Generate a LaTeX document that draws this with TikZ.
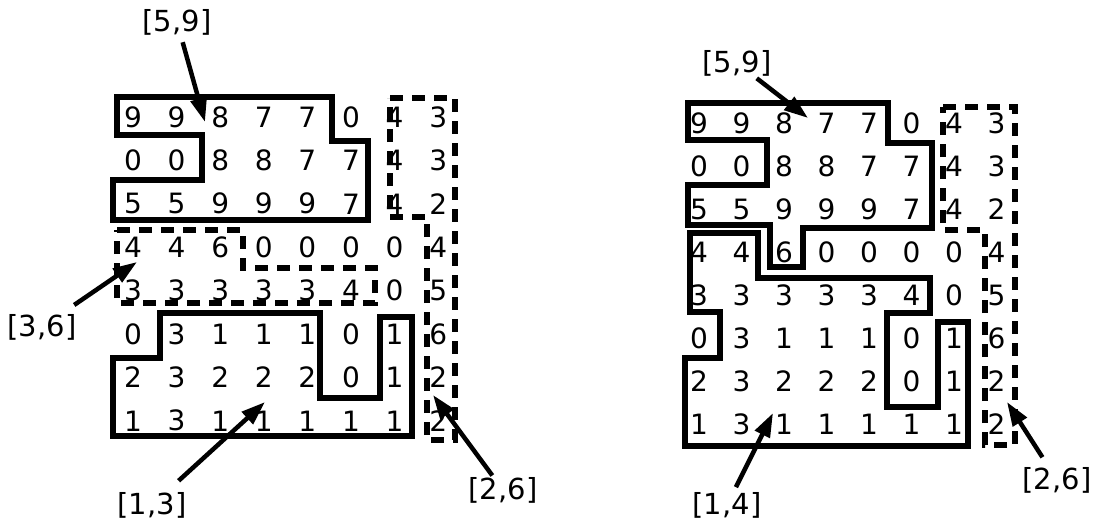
\documentclass[tikz,border=0pt]{standalone}
\usepackage{fontspec}
\setmainfont{DejaVu Sans}
\usetikzlibrary{arrows.meta}
\begin{document}
\begin{tikzpicture}[x=1pt,y=-1pt,
  digit/.style={font=\fontsize{28}{28}\selectfont, inner sep=0pt, anchor=center},
  lab/.style={font=\fontsize{29}{29}\selectfont, inner sep=0pt},
  region/.style={line width=6.5pt, line join=miter},
  dregion/.style={line width=6.5pt, dash pattern=on 13pt off 9pt},
  arr/.style={line width=4.5pt, -{Triangle[length=24pt,width=16pt]}}]
\useasboundingbox (0,0) rectangle (1097,522);

% ---------- digits ----------
\def\gridrows{{9,9,8,7,7,0,4,3},{0,0,8,8,7,7,4,3},{5,5,9,9,9,7,4,2},{4,4,6,0,0,0,0,4},{3,3,3,3,3,4,0,5},{0,3,1,1,1,0,1,6},{2,3,2,2,2,0,1,2},{1,3,1,1,1,1,1,2}}
\foreach \row [count=\j] in \gridrows {
  \foreach \v [count=\i] in \row {
    \node[digit] (L-\j-\i) at ({133+43.6*(\i-1)},{117+43.4*(\j-1)}) {\v};
    \node[digit] (R-\j-\i) at ({699+42.5*(\i-1)},{123+43*(\j-1)}) {\v};
  }
}

% ---------- left grid regions ----------
\draw[region] (117,97) -- (332,97) -- (332,141) -- (368,141) -- (368,220) -- (113,220)
  -- (113,180) -- (202,180) -- (202,135) -- (117,135) -- cycle;
\draw[dregion] (117,230) -- (243,230) -- (243,268) -- (375,268) -- (375,303) -- (117,303) -- cycle;
\draw[dregion] (390,98) -- (455,98) -- (455,440) -- (427,440) -- (427,217) -- (390,217) -- cycle;
\draw[region] (160,313) -- (320,313) -- (320,398) -- (380,398) -- (380,317) -- (412,317)
  -- (412,436) -- (113,436) -- (113,358) -- (160,358) -- cycle;

% ---------- right grid regions ----------
\draw[region] (688,103) -- (888,103) -- (888,143) -- (932,143) -- (932,228) -- (803,228)
  -- (803,267) -- (770,267) -- (770,225) -- (688,225) -- (688,185) -- (767,185)
  -- (767,140) -- (688,140) -- cycle;
\draw[region] (690,233) -- (758,233) -- (758,278) -- (930,278) -- (930,313) -- (887,313)
  -- (887,407) -- (938,407) -- (938,322) -- (968,322) -- (968,446) -- (685,446)
  -- (685,358) -- (720,358) -- (720,312) -- (690,312) -- cycle;
\draw[dregion] (943,107) -- (1015,107) -- (1015,445) -- (985,445) -- (985,230) -- (943,230) -- cycle;

% ---------- labels and arrows ----------
\node[lab] (l59) at (177,22) {[5,9]};
\node[lab] (l36) at (42,327) {[3,6]};
\node[lab] (l13) at (152,505) {[1,3]};
\node[lab] (l26) at (503,490) {[2,6]};
\node[lab] (r59) at (737,63) {[5,9]};
\node[lab] (r14) at (727,505) {[1,4]};
\node[lab] (r26) at (1057,480) {[2,6]};

\coordinate (tl59) at (205,122);
\coordinate (tl36) at (137,262);
\coordinate (tl13) at (265,402);
\coordinate (tl26) at (433,395);
\coordinate (tr59) at (808,118);
\coordinate (tr14) at (773,413);
\coordinate (tr26) at (1007,402);

\draw[arr, shorten <=21pt] (l59.center) -- (tl59);
\draw[arr, shorten <=39pt] (l36.center) -- (tl36);
\draw[arr, shorten <=36pt] (l13.center) -- (tl13);
\draw[arr, shorten <=18pt] (l26.center) -- (tl26);
\draw[arr, shorten <=25pt] (r59.center) -- (tr59);
\draw[arr, shorten <=20pt] (r14.center) -- (tr14);
\draw[arr, shorten <=27pt] (r26.center) -- (tr26);
\end{tikzpicture}
\end{document}
